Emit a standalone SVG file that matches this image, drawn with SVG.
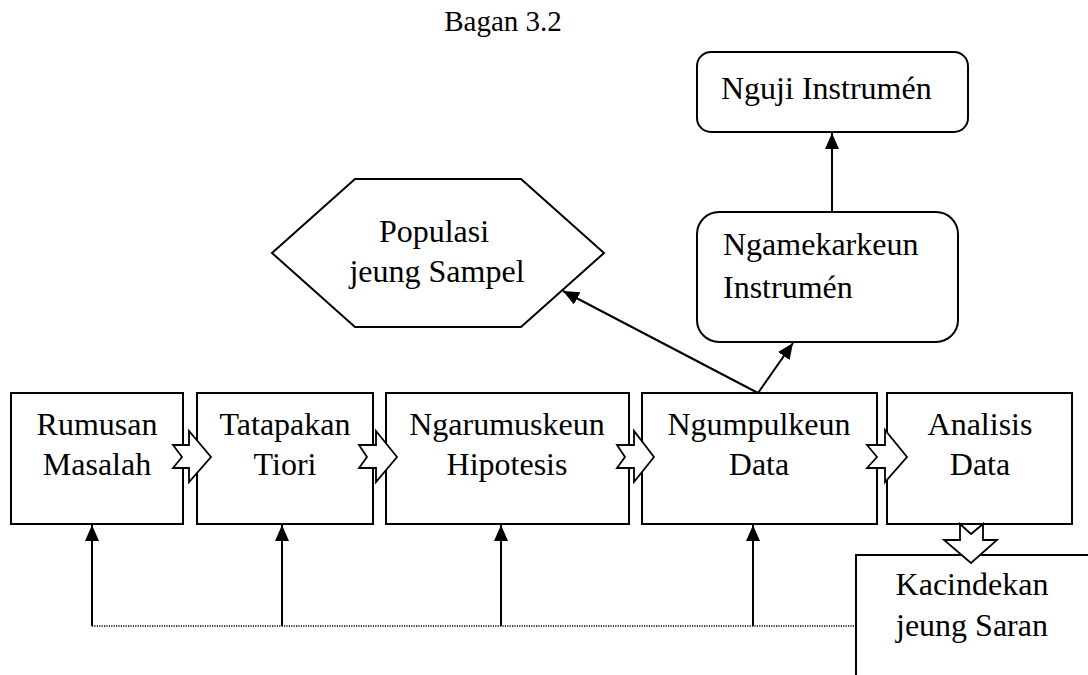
<svg xmlns="http://www.w3.org/2000/svg" width="1088" height="675" viewBox="0 0 1088 675">
<style>
.box{fill:#fff;stroke:#000;stroke-width:2}
.t{font-family:'Liberation Serif','Times New Roman',serif;font-size:32px;fill:#000}
.c{text-anchor:middle}
.ln{stroke:#000;stroke-width:2;fill:none}
.blk{fill:#fff;stroke:#000;stroke-width:1.8;stroke-linejoin:miter}
.dot{stroke:#000;stroke-width:1.5;stroke-dasharray:1.2 1.2;fill:none}
</style>
<defs>
<marker id="ah" markerUnits="userSpaceOnUse" markerWidth="17" markerHeight="15" refX="16" refY="7" orient="auto">
<path d="M0,0 L16,7 L0,14 z" fill="#000"/>
</marker>
</defs>
<text class="t c" x="503" y="31" style="font-size:29px">Bagan 3.2</text>

<g id="nguji">
<rect class="box" x="697" y="52" width="271" height="80" rx="14"/>
<text class="t" x="721" y="99">Nguji Instrumén</text>
</g>
<g id="ngamekarkeun">
<rect class="box" x="697" y="212" width="261" height="130" rx="22"/>
<text class="t" x="723" y="255">Ngamekarkeun</text>
<text class="t" x="723" y="298">Instrumén</text>
</g>
<g id="populasi">
<polygon class="box" points="272,253 355,179 521,179 604,253 521,327 355,327"/>
<text class="t c" x="434" y="242">Populasi</text>
<text class="t c" x="437" y="282">jeung Sampel</text>
</g>
<g id="rumusan">
<rect class="box" x="11" y="393" width="172" height="131"/>
<text class="t c" x="97" y="435">Rumusan</text>
<text class="t c" x="97" y="475">Masalah</text>
</g>
<g id="tatapakan">
<rect class="box" x="197" y="393" width="176" height="131"/>
<text class="t c" x="285" y="435">Tatapakan</text>
<text class="t c" x="285" y="475">Tiori</text>
</g>
<g id="ngarumuskeun">
<rect class="box" x="386" y="393" width="243" height="131"/>
<text class="t c" x="507" y="435">Ngarumuskeun</text>
<text class="t c" x="507" y="475">Hipotesis</text>
</g>
<g id="ngumpulkeun">
<rect class="box" x="642" y="393" width="235" height="131"/>
<text class="t c" x="759" y="435">Ngumpulkeun</text>
<text class="t c" x="759" y="475">Data</text>
</g>
<g id="analisis">
<rect class="box" x="887" y="393" width="185" height="131"/>
<text class="t c" x="980" y="435">Analisis</text>
<text class="t c" x="980" y="475">Data</text>
</g>
<g id="kacindekan">
<path class="ln" d="M1092,555 H856 V680"/>
<text class="t c" x="972" y="595">Kacindekan</text>
<text class="t c" x="972" y="636">jeung Saran</text>
</g>

<g id="connectors">
<polygon class="blk" points="173,445 189,445 189,431 211,457 189,482 189,468 173,468 182,457"/>
<polygon class="blk" points="359,445 376,445 376,431 397,457 376,482 376,468 359,468 367,457"/>
<polygon class="blk" points="617,445 634,445 634,431 654,457 634,482 634,468 617,468 625,457"/>
<polygon class="blk" points="867,445 885,445 885,430 907,457 885,482 885,468 867,468 877,457"/>
<polygon class="blk" points="960,524 971,534 983,524 983,540 997,540 971,563 944,540 960,540"/>
<line class="ln" x1="832" y1="212" x2="832" y2="133" marker-end="url(#ah)"/>
<line class="ln" x1="758" y1="393" x2="563" y2="291" marker-end="url(#ah)"/>
<line class="ln" x1="758" y1="393" x2="793" y2="343" marker-end="url(#ah)"/>
<line class="ln" x1="92" y1="626" x2="92" y2="525" marker-end="url(#ah)"/>
<line class="ln" x1="282" y1="626" x2="282" y2="525" marker-end="url(#ah)"/>
<line class="ln" x1="501" y1="626" x2="501" y2="525" marker-end="url(#ah)"/>
<line class="ln" x1="753" y1="626" x2="753" y2="525" marker-end="url(#ah)"/>
<line class="dot" x1="92" y1="626" x2="856" y2="626"/>
</g>
</svg>
